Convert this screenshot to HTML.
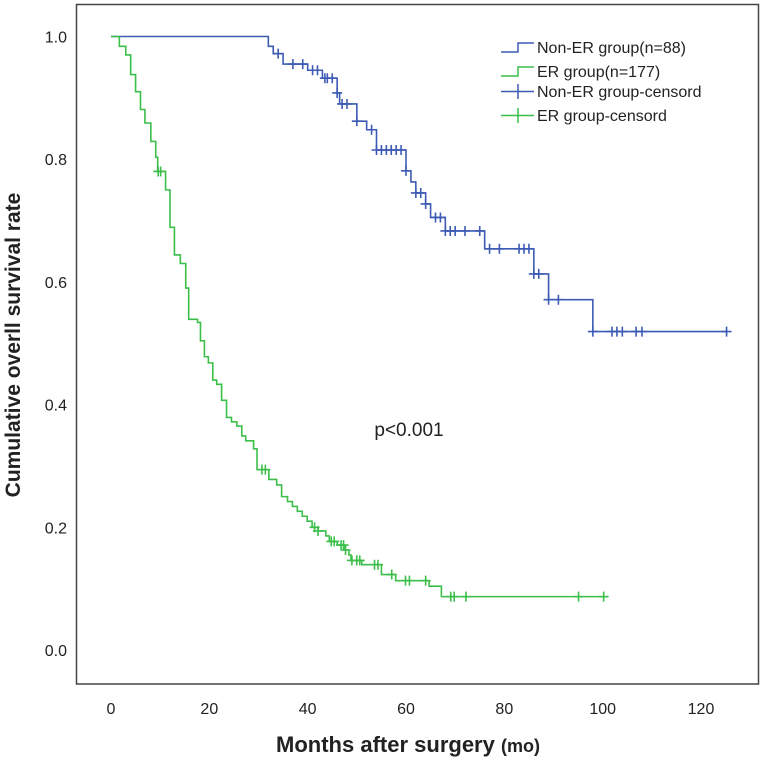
<!DOCTYPE html>
<html><head><meta charset="utf-8"><style>
body{margin:0;background:#fff;}
svg text{font-family:"Liberation Sans",sans-serif;}
</style></head><body>
<svg id="chart" width="762" height="765" viewBox="0 0 762 765" xmlns="http://www.w3.org/2000/svg">
<rect x="76.5" y="4.5" width="682" height="679.5" fill="none" stroke="#444" stroke-width="1.5"/>
<g id="xticks"></g><g id="yticks"></g>
<g id="series"></g>
<text x="408" y="752" text-anchor="middle" font-weight="bold" font-size="22" fill="#222">Months after surgery <tspan font-size="18">(mo)</tspan></text>
<text transform="translate(20,345) rotate(-90)" text-anchor="middle" font-weight="bold" font-size="21" fill="#222">Cumulative overll survival rate</text>
<text x="409" y="436" text-anchor="middle" font-size="19" fill="#222">p&lt;0.001</text>
<g>
 <g><path d="M501,52 H518 V43 H534" fill="none" stroke="#3d5bb5" stroke-width="1.5"/><text x="537" y="53" font-size="16" fill="#222">Non-ER group(n=88)</text></g>
 <g><path d="M501,76 H518 V67 H534" fill="none" stroke="#3cbf4a" stroke-width="1.5"/><text x="537" y="77" font-size="16" fill="#222">ER group(n=177)</text></g>
 <g><path d="M501,91.5 H534 M518,84 V99" stroke="#3d5bb5" stroke-width="1.5"/><text x="537" y="97" font-size="16" fill="#222">Non-ER group-censord</text></g>
 <g><path d="M501,115.5 H534 M518,108 V123" stroke="#3cbf4a" stroke-width="1.5"/><text x="537" y="121" font-size="16" fill="#222">ER group-censord</text></g>
</g>
</svg>
<script>
const xTicks=[0,20,40,60,80,100,120];
const yTicks=[0.0,0.2,0.4,0.6,0.8,1.0];
const blueTimes=[0,32,33,35,40,43,46,46.5,50,52,54,60,61,62,64,65,68,76,86,89,98];
const blueSurv=[1.0,0.984,0.972,0.955,0.945,0.932,0.908,0.89,0.862,0.848,0.815,0.781,0.763,0.745,0.727,0.705,0.683,0.654,0.613,0.571,0.519];
const blueEnd=125.5;
const blueCensorT=[34,37,39,41,42,43.5,44,45,46,47,48,50,53,54,55,56,57,58,59,60,62,63,64,66,67,68,69,70,72,75,77,79,83,84,85,86,87,89,91,98,101.9,102.9,104,106.8,108,125.2];
const greenTimes=[0,1.7,3.0,4.0,5.0,6.0,6.9,8.1,9.1,9.5,11.1,12.0,12.9,14.1,15.2,15.8,17.6,18.2,19.0,19.8,20.7,21.5,22.5,23.5,24.5,25.6,26.6,27.4,29.0,29.7,32.1,33.7,34.7,35.9,36.9,37.9,38.9,39.9,40.9,42.1,43.7,44.4,46.0,47.4,48.4,48.8,51.0,55.0,57.9,64.7,67.2];
const greenSurv=[1.0,0.984,0.97,0.938,0.91,0.881,0.859,0.829,0.803,0.78,0.75,0.689,0.644,0.63,0.59,0.539,0.534,0.504,0.478,0.468,0.44,0.433,0.407,0.379,0.372,0.365,0.349,0.341,0.328,0.294,0.278,0.269,0.25,0.242,0.234,0.226,0.218,0.21,0.2,0.194,0.186,0.177,0.171,0.163,0.155,0.146,0.139,0.123,0.113,0.104,0.087];
const greenEnd=101;
const greenCensorT=[9.6,10.1,30.7,31.4,41.4,42.1,44.8,45.4,46.8,47.3,47.7,49.0,50.0,50.6,53.6,54.3,57.1,59.9,60.7,64.0,69.1,69.8,72.2,95.1,100.2];

const xs=t=>111+t*(590/120);
const ys=s=>650-s*613.5;
const NS='http://www.w3.org/2000/svg';
function mk(tag,attrs,parent){const e=document.createElementNS(NS,tag);for(const k in attrs)e.setAttribute(k,attrs[k]);parent.appendChild(e);return e;}
const xg=document.getElementById('xticks'),yg=document.getElementById('yticks'),sg=document.getElementById('series');
xTicks.forEach(v=>{const t=mk('text',{x:xs(v),y:714,'text-anchor':'middle','font-size':'16',fill:'#222'},xg);t.textContent=v;

});
yTicks.forEach(v=>{const t=mk('text',{x:67,y:ys(v)+6,'text-anchor':'end','font-size':'16',fill:'#222'},yg);t.textContent=v.toFixed(1);

});
function stepAt(times,surv,t){let s=surv[0];for(let i=0;i<times.length;i++){if(times[i]<=t)s=surv[i];}return s;}
function draw(times,surv,end,cens,color,name){
 let d='M'+xs(times[0])+','+ys(surv[0]);
 for(let i=1;i<times.length;i++){d+=' H'+xs(times[i])+' V'+ys(surv[i]);}
 d+=' H'+xs(end);
 const p=mk('path',{d:d,fill:'none',stroke:color,'stroke-width':'1.6'},sg);
 
 
 cens.forEach(t=>{const x=xs(t),y=ys(stepAt(times,surv,t));
  const c=mk('path',{d:`M${x-5},${y} H${x+5} M${x},${y-5} V${y+5}`,stroke:color,'stroke-width':'1.6'},sg);
  
  });
}
draw(blueTimes,blueSurv,blueEnd,blueCensorT,'#3d5bb5','non-er');
draw(greenTimes,greenSurv,greenEnd,greenCensorT,'#3cbf4a','er');
</script>
</body></html>
